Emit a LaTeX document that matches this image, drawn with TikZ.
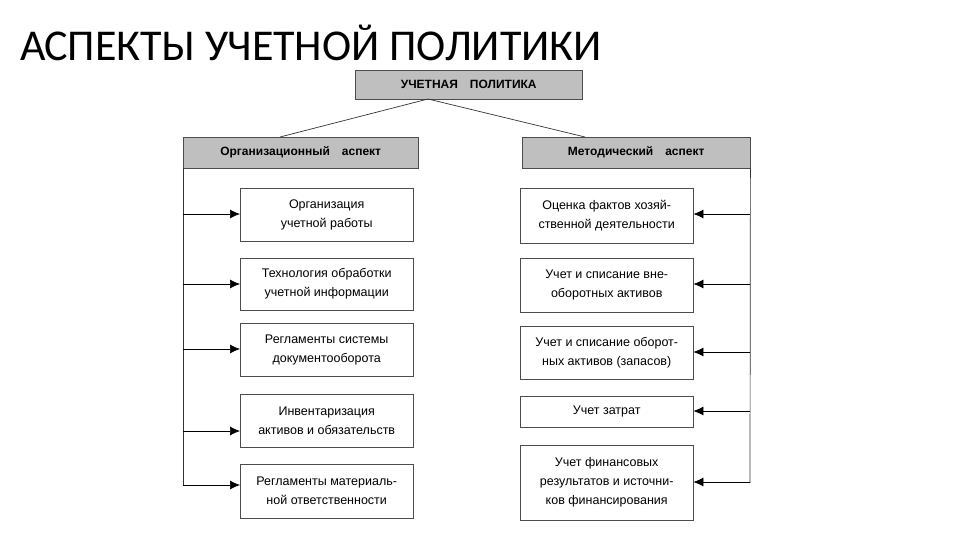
\documentclass[tikz,border=0pt]{standalone}
\usepackage{fontspec}
\setmainfont{Liberation Sans}
\newfontfamily\titlefont{Carlito}
\usetikzlibrary{arrows.meta}
\begin{document}
\begin{tikzpicture}[x=1pt,y=-1pt,
 hdr/.style={draw=black!70,fill=black!25,font=\bfseries\fontsize{12}{14}\selectfont,inner sep=0pt,anchor=north west},
 itm/.style={draw=black!70,fill=white,font=\fontsize{12.5}{19}\selectfont,align=center,inner sep=0pt,anchor=north west},
 arr/.style={-{Latex[length=10pt,width=9pt]},line width=0.7pt},
 ln/.style={line width=0.7pt,black!80}]
\useasboundingbox (0,0) rectangle (960,540);
\node[font=\titlefont\fontsize{44}{46}\selectfont,anchor=base west,inner sep=0pt] (title) at (20,61) {АСПЕКТЫ УЧЕТНОЙ ПОЛИТИКИ};
\node[hdr,minimum width=227pt,minimum height=29pt] (top) at (355,70) {УЧЕТНАЯ\quad ПОЛИТИКА};
\node[hdr,minimum width=235pt,minimum height=31pt] (L) at (183,137) {Организационный\quad аспект};
\node[hdr,minimum width=228pt,minimum height=31pt] (R) at (522,137) {Методический\quad аспект};
\coordinate (tp) at (428,99);
\coordinate (lt) at (280,137);
\coordinate (rt) at (585,137);
\draw[ln] (lt) -- (tp) -- (rt);
\coordinate (lb) at (183,486);
\coordinate (rb) at (750,483);
\draw[ln] (L.south west) -- (lb);
\draw[ln] (R.south east) -- (rb);
\node[itm,minimum width=173pt,minimum height=53pt] (l1) at (240,188) {Организация\\учетной работы};
\node[itm,minimum width=173pt,minimum height=52pt] (l2) at (240,258) {Технология обработки\\учетной информации};
\node[itm,minimum width=173pt,minimum height=53pt] (l3) at (240,323) {Регламенты системы\\документооборота};
\node[itm,minimum width=173pt,minimum height=53pt] (l4) at (240,394) {Инвентаризация\\активов и обязательств};
\node[itm,minimum width=173pt,minimum height=54pt] (l5) at (240,464) {Регламенты материаль-\\ной ответственности};
\node[itm,minimum width=173pt,minimum height=55pt] (r1) at (520,188) {Оценка фактов хозяй-\\ственной деятельности};
\node[itm,minimum width=173pt,minimum height=54pt] (r2) at (520,258) {Учет и списание вне-\\оборотных активов};
\node[itm,minimum width=173pt,minimum height=53pt] (r3) at (520,326) {Учет и списание оборот-\\ных активов (запасов)};
\node[itm,minimum width=173pt,minimum height=31pt] (r4) at (520,396) {Учет затрат};
\node[itm,minimum width=173pt,minimum height=75pt] (r5) at (520,445) {Учет финансовых\\результатов и источни-\\ков финансирования};
\foreach \n/\y in {l1/214,l2/284,l3/349,l4/431,l5/485}{
 \draw[arr] (183,\y) -- (\n.west |- 0,\y);}
\foreach \n/\y in {r1/214,r2/284,r3/352,r4/411,r5/482}{
 \draw[arr] (750,\y) -- (\n.east |- 0,\y);}
\end{tikzpicture}
\end{document}
